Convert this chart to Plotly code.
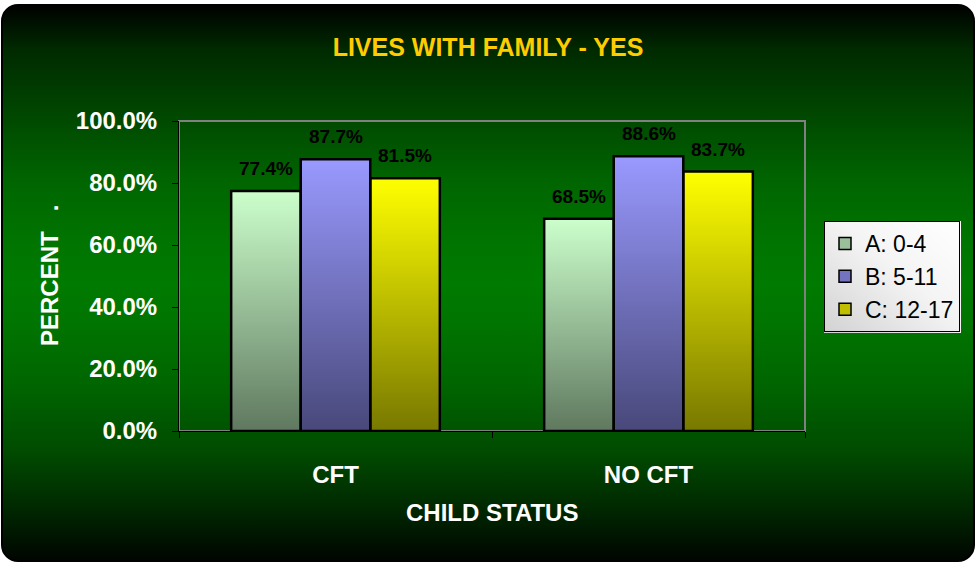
import base64
import plotly.graph_objects as go

# ---------------- data ----------------
categories = ["CFT", "NO CFT"]
series_names = ["A: 0-4", "B: 5-11", "C: 12-17"]
values_a = [77.4, 68.5]
values_b = [87.7, 88.6]
values_c = [81.5, 83.7]
y_tick_values = [0, 20, 40, 60, 80, 100]
y_tick_text = [f"{v:.1f}%" for v in y_tick_values]
chart_title = "LIVES WITH FAMILY - YES"
x_title = "CHILD STATUS"
y_title = "PERCENT\u00a0\u00a0\u00a0."

# ---------------- style ----------------
top_colors = ["#CCFFCC", "#9999FF", "#FFFF00"]
bottom_colors = ["#5F785F", "#48487A", "#787800"]
legend_colors = ["#9ABF9A", "#7373BF", "#BFBF00"]
FONT = "Liberation Sans, Arial, sans-serif"

W, H = 976, 563
L, R, T, B = 179, 171, 121, 132
PW, PH = W - L - R, H - T - B

BAR_W = 1 / 4.5
OFFSETS = [-1.5 * BAR_W, -0.5 * BAR_W, 0.5 * BAR_W]


def svg_uri(svg):
    return "data:image/svg+xml;base64," + base64.b64encode(svg.encode()).decode()


def bar_gradient(top, bottom):
    svg = ("<svg xmlns='http://www.w3.org/2000/svg' width='100' height='100' viewBox='0 0 100 100' "
           "preserveAspectRatio='none'><defs><linearGradient id='g' x1='0' y1='0' x2='0' y2='1'>"
           f"<stop offset='0' stop-color='{top}'/><stop offset='1' stop-color='{bottom}'/>"
           "</linearGradient></defs><rect width='100' height='100' fill='url(#g)'/></svg>")
    return svg_uri(svg)


bg_stops = [(0, "#000000"), (0.08, "#002a00"), (0.2, "#004800"), (0.32, "#006600"),
            (0.44, "#007600"), (0.5, "#007a00"), (0.56, "#007600"), (0.68, "#006600"),
            (0.8, "#004c00"), (0.9, "#002a00"), (1, "#000500")]
stops_svg = "".join(f"<stop offset='{o}' stop-color='{c}'/>" for o, c in bg_stops)
bg_svg = (f"<svg xmlns='http://www.w3.org/2000/svg' width='{W}' height='{H}' viewBox='0 0 {W} {H}' "
          "preserveAspectRatio='none'><defs><linearGradient id='g' x1='0' y1='0' x2='0' y2='1'>"
          f"{stops_svg}</linearGradient></defs>"
          f"<rect x='0' y='0' width='{W}' height='{H}' fill='white'/>"
          "<rect x='2' y='5' width='972' height='556' rx='16' ry='16' fill='url(#g)' "
          "stroke='black' stroke-width='2'/></svg>")

legend_svg = ("<svg xmlns='http://www.w3.org/2000/svg' width='100' height='100' viewBox='0 0 100 100' "
              "preserveAspectRatio='none'><defs><linearGradient id='g' x1='1' y1='0' x2='0' y2='1'>"
              "<stop offset='0' stop-color='#FFFFFF'/><stop offset='0.45' stop-color='#F4F4F4'/>"
              "<stop offset='1' stop-color='#D2D2D2'/></linearGradient></defs>"
              "<rect width='100' height='100' fill='url(#g)'/></svg>")

x_idx = list(range(len(categories)))
series_values = [values_a, values_b, values_c]

fig = go.Figure()
images = [dict(source=svg_uri(bg_svg), xref="paper", yref="paper",
               x=-L / PW, y=1 + T / PH, sizex=W / PW, sizey=H / PH,
               xanchor="left", yanchor="top", sizing="stretch", layer="below")]
annotations = []

for name, vals, off, tc, bc in zip(series_names, series_values, OFFSETS, top_colors, bottom_colors):
    fig.add_trace(go.Bar(
        x=x_idx, y=vals, width=BAR_W, offset=off, name=name, showlegend=False,
        marker=dict(color="rgba(0,0,0,0)", line=dict(color="black", width=2.5)),
        hoverinfo="skip"))
    for xi, v in zip(x_idx, vals):
        images.append(dict(source=bar_gradient(tc, bc), xref="x", yref="y",
                           x=xi + off, y=v, sizex=BAR_W, sizey=v,
                           xanchor="left", yanchor="top", sizing="stretch", layer="below"))
        annotations.append(dict(x=xi + off + BAR_W / 2, y=v, xref="x", yref="y",
                                text=f"{v:.1f}%", showarrow=False, yanchor="bottom", yshift=10,
                                font=dict(family=FONT, size=19, color="black", weight="bold")))

# legend entries
for i, (name, col) in enumerate(zip(series_names, legend_colors)):
    fig.add_trace(go.Bar(x=[None], y=[None], name=name, legendgroup=f"g{i}",
                         marker=dict(color=col, line=dict(color="black", width=1.5))))

# legend background gradient
LEG_X0, LEG_X1, LEG_Y0, LEG_Y1 = 824, 961, 221, 333
images.append(dict(source=svg_uri(legend_svg), xref="paper", yref="paper",
                   x=(LEG_X0 - L) / PW, y=(H - B - LEG_Y0) / PH,
                   sizex=(LEG_X1 - LEG_X0) / PW, sizey=(LEG_Y1 - LEG_Y0) / PH,
                   xanchor="left", yanchor="top", sizing="stretch", layer="above"))

annotations.append(dict(text=x_title, xref="paper", yref="paper", x=0.5,
                        y=-(512 - (H - B)) / PH, yanchor="middle", showarrow=False,
                        font=dict(family=FONT, size=24, color="white", weight="bold")))
annotations.append(dict(text=y_title, xref="paper", yref="paper", x=-(L - 49) / PW,
                        y=((H - B) - 276) / PH, textangle=-90, showarrow=False,
                        xanchor="center", yanchor="middle",
                        font=dict(family=FONT, size=24, color="white", weight="bold")))

# plot-area border (top/right grey)
fig.add_shape(type="rect", xref="paper", yref="paper", x0=0, y0=0, x1=1, y1=1,
              line=dict(color="#808080", width=2), layer="below")

fig.update_layout(
    width=W, height=H,
    margin=dict(l=L, r=R, t=T, b=B, pad=0),
    paper_bgcolor="white", plot_bgcolor="#C0C0C0",
    barmode="group",
    title=dict(text=chart_title, x=0.5, xref="container", y=1 - 47 / H, yref="container",
               xanchor="center", yanchor="middle",
               font=dict(family=FONT, size=25, color="#FFCC00", weight="bold")),
    xaxis=dict(range=[-0.5, 1.5], tickmode="array", tickvals=x_idx, ticktext=categories,
               ticks="", showgrid=False, zeroline=False, showline=True, linecolor="black",
               linewidth=1, ticklabelstandoff=22,
               tickfont=dict(family=FONT, size=24, color="white", weight="bold"),
               minor=dict(tickmode="array", tickvals=[-0.5, 0.5, 1.5], ticks="outside",
                          ticklen=6, tickcolor="black", tickwidth=1, showgrid=False),
               fixedrange=True),
    yaxis=dict(range=[0, 100], tickmode="array", tickvals=y_tick_values, ticktext=y_tick_text,
               ticks="outside", ticklen=6,
               tickcolor="black", tickwidth=1, showgrid=False, zeroline=False,
               showline=True, linecolor="black", linewidth=1, ticklabelstandoff=10,
               tickfont=dict(family=FONT, size=24, color="white", weight="bold"),
               fixedrange=True),
    legend=dict(x=(LEG_X0 - L) / PW, y=(H - B - LEG_Y0) / PH, xanchor="left", yanchor="top",
                bgcolor="rgba(0,0,0,0)", bordercolor="black", borderwidth=1,
                tracegroupgap=0, font=dict(family=FONT, size=23, color="black")),
    images=images,
    annotations=annotations,
    showlegend=True,
)

fig.write_html("out.html")
